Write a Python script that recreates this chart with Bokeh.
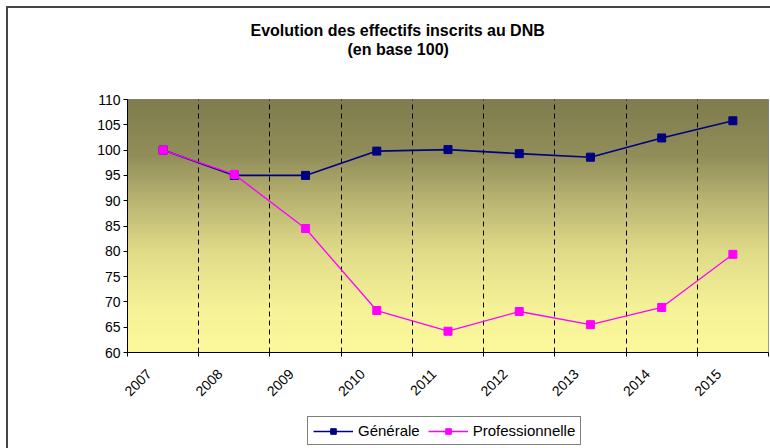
import numpy as np
from bokeh.plotting import figure
from bokeh.layouts import column
from bokeh.models import FixedTicker, Legend, LegendItem, Title, Range1d
from bokeh.embed import file_html
from bokeh.resources import INLINE

# ---- data ----
years = ["2007", "2008", "2009", "2010", "2011", "2012", "2013", "2014", "2015"]
generale = [100.0, 95.0, 95.0, 99.8, 100.1, 99.3, 98.6, 102.4, 105.8]
professionnelle = [100.0, 95.2, 84.5, 68.3, 64.2, 68.1, 65.5, 68.9, 79.4]
y_ticks = [60, 65, 70, 75, 80, 85, 90, 95, 100, 105, 110]
title_lines = ["Evolution des effectifs inscrits au DNB", "(en base 100)"]
series_names = ["Générale", "Professionnelle"]

n = len(years)
xc = [i + 0.5 for i in range(n)]          # category centres
xl = [i + 0.3 for i in range(n)]          # label anchor (Excel-like rotated labels)
FONT = "Liberation Sans"
C_GEN, C_PRO = "#000080", "#FF00FF"

p = figure(width=762, height=397, output_backend="svg", toolbar_location=None,
           x_range=Range1d(0, n), y_range=Range1d(y_ticks[0], y_ticks[-1]),
           min_border_left=119, min_border_right=2, min_border_top=91,
           min_border_bottom=53)
p.background_fill_color = "white"
p.border_fill_color = "white"
p.outline_line_color = "#808080"
p.outline_line_width = 1

# gradient background of the plot area
N = 256
stops = [(0.0, (251, 249, 156)), (0.18, (246, 242, 151)), (0.4, (224, 219, 136)),
         (0.6, (186, 181, 114)), (0.78, (145, 142, 90)), (1.0, (128, 125, 78))]
img = np.empty((N, 1), dtype=np.uint32)
view = img.view(dtype=np.uint8).reshape((N, 1, 4))
fr = np.linspace(0, 1, N)
sx = [s[0] for s in stops]
for c in range(3):
    view[:, 0, c] = np.interp(fr, sx, [s[1][c] for s in stops]).astype(np.uint8)
view[:, 0, 3] = 255
p.image_rgba(image=[img], x=0, y=y_ticks[0], dw=n, dh=y_ticks[-1] - y_ticks[0], level="image")

# grid
p.ygrid.visible = False
p.xgrid.ticker = FixedTicker(ticks=list(range(1, n + 1)))
p.xgrid.grid_line_color = "black"
p.xgrid.grid_line_dash = "5 4"
p.xgrid.grid_line_width = 1

# axes
p.yaxis.ticker = FixedTicker(ticks=y_ticks, minor_ticks=[])
p.yaxis.axis_line_color = "black"
p.yaxis.major_tick_line_color = "black"
p.yaxis.major_tick_in = 0
p.yaxis.major_tick_out = 4
p.yaxis.major_label_text_font = FONT
p.yaxis.major_label_text_font_size = "14px"
p.yaxis.major_label_text_color = "black"
p.yaxis.major_label_standoff = 3

p.xaxis.ticker = FixedTicker(ticks=xl, minor_ticks=list(range(0, n + 1)))
p.xaxis.major_label_overrides = {x: y for x, y in zip(xl, years)}
p.xaxis.major_tick_line_color = None
p.xaxis.minor_tick_line_color = "black"
p.xaxis.minor_tick_in = 0
p.xaxis.minor_tick_out = 4
p.xaxis.axis_line_color = "black"
p.xaxis.major_label_orientation = np.pi / 4
p.xaxis.major_label_text_font = FONT
p.xaxis.major_label_text_font_size = "14px"
p.xaxis.major_label_text_color = "black"
p.xaxis.major_label_standoff = 13

# series
p.line(xc, generale, line_color=C_GEN, line_width=1.6)
p.scatter(xc, generale, marker="square", size=8, fill_color=C_GEN, line_color=C_GEN)
p.line(xc, professionnelle, line_color=C_PRO, line_width=1.3)
p.scatter(xc, professionnelle, marker="square", size=8, fill_color=C_PRO, line_color=C_PRO)

# title (spacer first, innermost; then second line, then first line)
p.add_layout(Title(text=" ", text_font_size="32px", standoff=4), "above")
p.add_layout(Title(text=title_lines[1], align="left", offset=220, standoff=0,
                   text_font=FONT, text_font_size="16px", text_font_style="bold",
                   text_color="black"), "above")
p.add_layout(Title(text=title_lines[0], align="left", offset=123, standoff=0,
                   text_font=FONT, text_font_size="16px", text_font_style="bold",
                   text_color="black"), "above")

# legend strip (separate small figure so the legend sits fully inside a frame)
q = figure(width=762, height=43, output_backend="svg", toolbar_location=None,
           x_range=Range1d(0, 1), y_range=Range1d(0, 1),
           x_axis_type=None, y_axis_type=None,
           min_border_left=0, min_border_right=0, min_border_top=0, min_border_bottom=0)
q.outline_line_color = None
q.background_fill_color = "white"
q.border_fill_color = "white"
q.xgrid.visible = False
q.ygrid.visible = False
# these renderers use the real data; it lies outside q's ranges, only legend glyphs show
ql1 = q.line(xc, generale, line_color=C_GEN, line_width=1.6)
qs1 = q.scatter(xc, generale, marker="square", size=8, fill_color=C_GEN, line_color=C_GEN)
ql2 = q.line(xc, professionnelle, line_color=C_PRO, line_width=1.3)
qs2 = q.scatter(xc, professionnelle, marker="square", size=8, fill_color=C_PRO, line_color=C_PRO)

legend = Legend(items=[LegendItem(label=series_names[0], renderers=[ql1, qs1]),
                       LegendItem(label=series_names[1], renderers=[ql2, qs2])],
                orientation="horizontal", location=(180, 3),
                glyph_width=40, glyph_height=14, label_standoff=5, spacing=8,
                padding=5, margin=0, border_line_color="black", border_line_width=1,
                label_text_font=FONT, label_text_font_size="15px",
                label_text_color="black", background_fill_color="white",
                background_fill_alpha=1.0)
q.add_layout(legend, "center")

layout = column(p, q, spacing=0)
layout.styles = {"margin-left": "6px", "margin-top": "6px",
                 "border-left": "2px solid #454545", "border-top": "2px solid #454545"}
open("out.html", "w").write(file_html(layout, INLINE))
